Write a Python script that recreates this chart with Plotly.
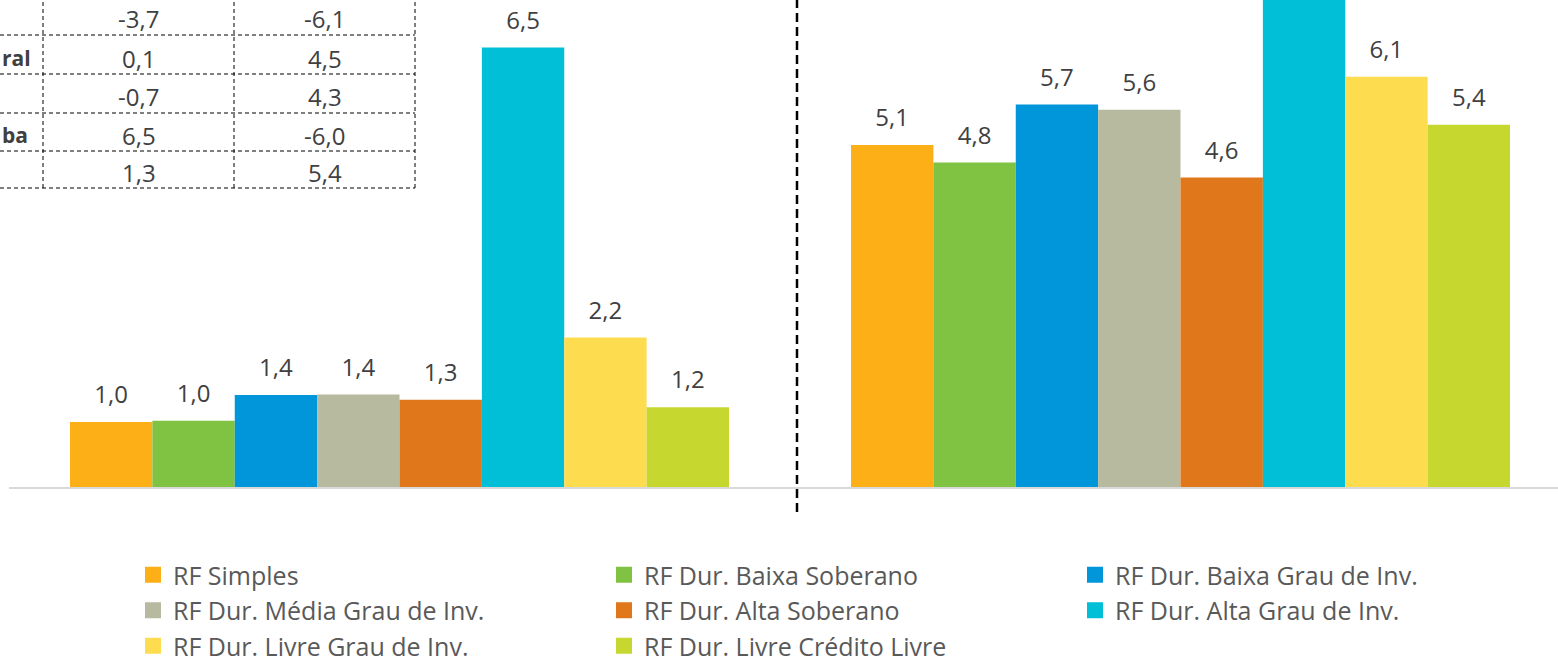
import plotly.graph_objects as go

# ---- data ----
groups = ["Período A", "Período B"]
series_names = [
    "RF Simples",
    "RF Dur. Baixa Soberano",
    "RF Dur. Baixa Grau de Inv.",
    "RF Dur. Média Grau de Inv.",
    "RF Dur. Alta Soberano",
    "RF Dur. Alta Grau de Inv.",
    "RF Dur. Livre Grau de Inv.",
    "RF Dur. Livre Crédito Livre",
]
rf_simples = [0.96, 5.06]
baixa_soberano = [0.98, 4.80]
baixa_grau = [1.36, 5.66]
media_grau = [1.37, 5.58]
alta_soberano = [1.29, 4.58]
alta_grau = [6.50, 7.60]
livre_grau = [2.21, 6.07]
livre_credito = [1.18, 5.36]
series_values = [rf_simples, baixa_soberano, baixa_grau, media_grau,
                 alta_soberano, alta_grau, livre_grau, livre_credito]
colors = ["#FCAF17", "#80C242", "#0096D9", "#B7BA9E",
          "#E0771B", "#00BFD7", "#FEDC50", "#C6D730"]

# partial table (top-left)
table_row_labels = ["", "ral", "", "ba", ""]
table_col1 = [-3.7, 0.1, -0.7, 6.5, 1.3]
table_col2 = [-6.1, 4.5, 4.3, -6.0, 5.4]

# ---- figure geometry ----
W, H = 1558, 659
PLOT_L, PLOT_B = 9, 487          # plot area left edge and baseline (px)
PX_PER_UNIT = 67.6
CAT_PX = 781
BARGAP = 1 - 659 / CAT_PX


def px2x(px):
    return px / W


def px2y(py):
    return (H - py) / H


fig = go.Figure()
for i, (name, vals, col) in enumerate(zip(series_names, series_values, colors)):
    fig.add_trace(go.Bar(
        x=groups, y=vals, name=name, showlegend=False,
        marker=dict(color=col, line=dict(width=0)),
        hoverinfo="name+y",
    ))
for i, (name, vals, col) in enumerate(zip(series_names, series_values, colors)):
    # value labels, grouped exactly like the bars
    fig.add_trace(go.Scatter(
        x=groups, y=vals, mode="markers+text", showlegend=False,
        marker=dict(size=19, opacity=0, color=col),
        texttemplate="%{y:.1f}", textposition="top center",
        textfont=dict(size=24, color="#404040", family="Open Sans"),
        cliponaxis=True, hoverinfo="skip",
    ))
for name, col in zip(series_names, colors):
    # legend entries (square swatches) on a hidden subplot
    fig.add_trace(go.Scatter(
        x=[None], y=[None], mode="markers", name=name,
        marker=dict(symbol="square", size=16, color=col),
        xaxis="x2", yaxis="y2", hoverinfo="skip",
    ))

shapes = []
# vertical dashed separator
shapes.append(dict(type="line", xref="paper", yref="paper",
                   x0=px2x(797), x1=px2x(797), y0=px2y(512), y1=1.0,
                   line=dict(color="#000000", width=2.5, dash="9px,5px")))

# table grid
t_hlines = [35, 74, 113, 151, 188]
t_vlines = [43, 234, 415]
for yy in t_hlines:
    shapes.append(dict(type="line", xref="paper", yref="paper",
                       x0=0, x1=px2x(415), y0=px2y(yy), y1=px2y(yy),
                       line=dict(color="#000000", width=1, dash="4px,3px")))
for xx in t_vlines:
    shapes.append(dict(type="line", xref="paper", yref="paper",
                       x0=px2x(xx), x1=px2x(xx), y0=px2y(188), y1=1.0,
                       line=dict(color="#000000", width=1, dash="4px,3px")))

annotations = []
col_centers = [(t_vlines[0] + t_vlines[1]) / 2, (t_vlines[1] + t_vlines[2]) / 2]


def fmt(v):
    return f"{v:.1f}".replace(".", ",")


for i, yb in enumerate(t_hlines):
    yc = yb - 16
    for cc, colvals in zip(col_centers, [table_col1, table_col2]):
        annotations.append(dict(xref="paper", yref="paper", x=px2x(cc), y=px2y(yc),
                                text=fmt(colvals[i]), showarrow=False,
                                xanchor="center", yanchor="middle",
                                font=dict(size=24, color="#404040", family="Open Sans")))
    if table_row_labels[i]:
        annotations.append(dict(xref="paper", yref="paper", x=0, y=px2y(yc),
                                text="<b>" + table_row_labels[i] + "</b>", showarrow=False,
                                xanchor="left", yanchor="middle",
                                font=dict(size=21, color="#404040", family="Open Sans")))

fig.update_layout(
    width=W, height=H,
    margin=dict(l=0, r=0, t=0, b=0, pad=0, autoexpand=False),
    paper_bgcolor="white", plot_bgcolor="white",
    separators=",.",
    barmode="group", bargap=BARGAP, bargroupgap=0,
    scattermode="group", scattergap=BARGAP,
    font=dict(family="Open Sans", color="#595959"),
    xaxis=dict(type="category", domain=[PLOT_L / W, 1],
               range=[-0.5, -0.5 + (W - PLOT_L) / CAT_PX],
               showticklabels=False, ticks="", showgrid=False,
               showline=True, linecolor="#D9D9D9", linewidth=1.5, zeroline=False),
    yaxis=dict(domain=[(H - PLOT_B) / H, 1], range=[0, PLOT_B / PX_PER_UNIT],
               visible=False, showgrid=False, zeroline=False),
    xaxis2=dict(domain=[0, 0.01], visible=False, anchor="y2"),
    yaxis2=dict(domain=[0, 0.01], visible=False, anchor="x2"),
    legend=dict(orientation="h", x=px2x(133), xanchor="left", y=px2y(552), yanchor="top",
                font=dict(size=25, color="#595959", family="Open Sans"),
                entrywidth=426, entrywidthmode="pixels", traceorder="normal",
                bgcolor="rgba(0,0,0,0)", itemclick=False),
    shapes=shapes,
    annotations=annotations,
)

fig.write_html("out.html", config={"displayModeBar": False},
               post_script="document.body.style.margin='0px';document.body.style.overflow='hidden';")
